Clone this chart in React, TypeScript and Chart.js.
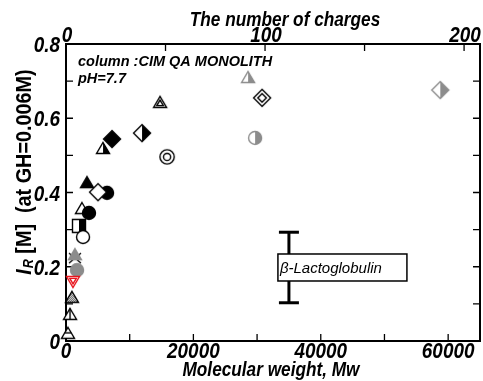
import React, { useEffect, useRef } from "react";
import { Chart, registerables } from "chart.js";

Chart.register(...registerables);

// ---------------- data ----------------
const MOLECULAR_WEIGHT = [28590, 30790, 29690, 58760, 14770, 11940, 15870, 7230, 5810, 3300, 6440, 5030, 2510, 3610, 2040, 2670, 1410, 1730, 1100, 940, 630, 310];
const IR_VALUES = [0.711, 0.655, 0.547, 0.676, 0.644, 0.56, 0.496, 0.544, 0.52, 0.428, 0.399, 0.401, 0.358, 0.345, 0.31, 0.28, 0.234, 0.191, 0.159, 0.119, 0.073, 0.022];
const MARKERS = ["triHalfGray", "diamondDouble", "circleHalfGray", "diamondHalfGray", "triDouble", "diamondHalfBlack", "circleDouble", "diamondBlack", "triHalfBlack", "triBlack", "circleBlack", "diamondWhite", "triWhite", "circleBlack", "squareHalfBlack", "circleWhite", "triGrayX", "circleGray", "invTriRedDouble", "triDotted", "triVLine", "triHLine"];

const ERROR_BAR_MW = [35000];
const ERROR_BAR_LOW = [0.103];
const ERROR_BAR_HIGH = [0.293];
const ERROR_BAR_LABEL = "β-Lactoglobulin";

const X_MAX = 65000;
const X_TICKS = [0, 10000, 20000, 30000, 40000, 50000, 60000];
const X_LABEL_EVERY = 20000;
const CHARGE_MAX = 208;
const CHARGE_TICKS = [0, 50, 100, 150, 200];
const CHARGE_LABEL_EVERY = 100;
const Y_MAX = 0.8;
const Y_TICKS = [0, 0.1, 0.2, 0.3, 0.4, 0.5, 0.6, 0.7, 0.8];
const Y_LABEL_EVERY = 0.2;

const X_TITLE = "Molecular weight, Mw";
const TOP_TITLE = "The number of charges";
const Y_TITLE_MAIN = "I";
const Y_TITLE_SUB = "R";
const Y_TITLE_REST = " [M]  (at GH=0.006M)";
const ANNOTATION_LINES = ["column :CIM QA MONOLITH", "pH=7.7"];

// ---------------- styles ----------------
const SANS = "'Liberation Sans', Arial, Helvetica, sans-serif";
const GRAY = "#8c8c8c";
const TICK_FONT = `italic bold 22px ${SANS}`;
const TICK_SX = 0.86;
const TITLE_FONT = `italic bold 21px ${SANS}`;
const TITLE_SX = 0.82;

type Spec = {
  shape: string; fill: string; stroke: string; half?: string; inner?: boolean;
  vline?: boolean; hline?: boolean; xBehind?: boolean; scale?: number;
};

const SPECS: Record<string, Spec> = {
  triHalfGray: { shape: "tri", fill: "#fff", half: GRAY, stroke: GRAY },
  diamondDouble: { shape: "diamond", fill: "#fff", stroke: "#000", inner: true },
  circleHalfGray: { shape: "circle", fill: "#fff", half: GRAY, stroke: GRAY },
  diamondHalfGray: { shape: "diamond", fill: "#fff", half: GRAY, stroke: GRAY },
  triDouble: { shape: "tri", fill: "#fff", stroke: "#000", inner: true },
  diamondHalfBlack: { shape: "diamond", fill: "#fff", half: "#000", stroke: "#000" },
  circleDouble: { shape: "circle", fill: "#fff", stroke: "#000", inner: true, scale: 1.1 },
  diamondBlack: { shape: "diamond", fill: "#000", stroke: "#000" },
  triHalfBlack: { shape: "tri", fill: "#fff", half: "#000", stroke: "#000" },
  triBlack: { shape: "tri", fill: "#000", stroke: "#000" },
  circleBlack: { shape: "circle", fill: "#000", stroke: "#000" },
  diamondWhite: { shape: "diamond", fill: "#fff", stroke: "#000" },
  triWhite: { shape: "tri", fill: "#fff", stroke: "#000" },
  squareHalfBlack: { shape: "square", fill: "#fff", half: "#000", stroke: "#000" },
  circleWhite: { shape: "circle", fill: "#fff", stroke: "#000" },
  triGrayX: { shape: "tri", fill: GRAY, stroke: GRAY, xBehind: true },
  circleGray: { shape: "circle", fill: GRAY, stroke: GRAY },
  invTriRedDouble: { shape: "invTri", fill: "#fff", stroke: "#e8141c", inner: true },
  triDotted: { shape: "tri", fill: "dotted", stroke: "#000" },
  triVLine: { shape: "tri", fill: "#fff", stroke: "#000", vline: true },
  triHLine: { shape: "tri", fill: "#fff", stroke: "#000", hline: true },
};

const GEOM: Record<string, { pts: number[][]; c: number[] }> = {
  tri: { pts: [[0, -5.5], [6.5, 5.5], [-6.5, 5.5]], c: [0, 1.8] },
  invTri: { pts: [[0, 5.5], [6.5, -5.5], [-6.5, -5.5]], c: [0, -1.8] },
  diamond: { pts: [[0, -8.5], [8.5, 0], [0, 8.5], [-8.5, 0]], c: [0, 0] },
  square: { pts: [[-6.5, -6.5], [6.5, -6.5], [6.5, 6.5], [-6.5, 6.5]], c: [0, 0] },
};

function tracePath(g: CanvasRenderingContext2D, shape: string, k: number) {
  g.beginPath();
  if (shape === "circle") {
    g.arc(0, 0, 6.5 * k, 0, Math.PI * 2);
    return;
  }
  const { pts, c } = GEOM[shape];
  pts.forEach(([x, y], i) => {
    const px = c[0] + (x - c[0]) * k;
    const py = c[1] + (y - c[1]) * k;
    if (i) g.lineTo(px, py);
    else g.moveTo(px, py);
  });
  g.closePath();
}

function makeMarker(spec: Spec): HTMLCanvasElement {
  const S = 24;
  const c = document.createElement("canvas");
  c.width = S;
  c.height = S;
  const g = c.getContext("2d")!;
  g.translate(S / 2, S / 2);
  const k = spec.scale || 1;
  if (spec.xBehind) {
    g.strokeStyle = "#000";
    g.lineWidth = 1.3;
    g.beginPath();
    g.moveTo(-6, -1); g.lineTo(6, 9);
    g.moveTo(6, -1); g.lineTo(-6, 9);
    g.stroke();
  }
  tracePath(g, spec.shape, k);
  if (spec.fill === "dotted") {
    const p = document.createElement("canvas");
    p.width = 2; p.height = 2;
    const pg = p.getContext("2d")!;
    pg.fillStyle = "#d0d0d0"; pg.fillRect(0, 0, 2, 2);
    pg.fillStyle = "#707070"; pg.fillRect(0, 0, 1, 1); pg.fillRect(1, 1, 1, 1);
    g.fillStyle = g.createPattern(p, "repeat")!;
  } else {
    g.fillStyle = spec.fill;
  }
  g.fill();
  if (spec.half) {
    g.save();
    tracePath(g, spec.shape, k);
    g.clip();
    g.fillStyle = spec.half;
    g.fillRect(0, -12, 12, 24);
    g.restore();
  }
  g.lineWidth = 1.4;
  g.strokeStyle = spec.stroke;
  tracePath(g, spec.shape, k);
  g.stroke();
  if (spec.inner) {
    tracePath(g, spec.shape, k * 0.5);
    g.stroke();
  }
  if (spec.vline) {
    g.beginPath(); g.moveTo(0, -5.5); g.lineTo(0, 5.5); g.stroke();
  }
  if (spec.hline) {
    g.beginPath(); g.moveTo(-3.3, 0); g.lineTo(3.3, 0); g.stroke();
  }
  return c;
}

function isMultiple(v: number, step: number) {
  const r = v / step;
  return Math.abs(r - Math.round(r)) < 1e-6;
}

function drawScaled(g: CanvasRenderingContext2D, text: string, x: number, y: number, sx: number, align: CanvasTextAlign) {
  g.save();
  g.translate(x, y);
  g.scale(sx, 1);
  g.textAlign = align;
  g.textBaseline = "alphabetic";
  g.fillText(text, 0, 0);
  g.restore();
}

function fmtY(v: number) {
  return Math.abs(v) < 1e-9 ? "0" : v.toFixed(1);
}

const framePlugin = {
  id: "frame",
  beforeDatasetsDraw(chart: any) {
    const g: CanvasRenderingContext2D = chart.ctx;
    const { left, right, top, bottom } = chart.chartArea;
    const xs = chart.scales.x, x2 = chart.scales.x2, ys = chart.scales.y;
    g.save();
    g.strokeStyle = "#000";
    g.lineWidth = 1.3;
    g.beginPath();
    xs.ticks.forEach((t: any) => {
      const p = xs.getPixelForValue(t.value);
      g.moveTo(p, bottom); g.lineTo(p, bottom - 7);
    });
    x2.ticks.forEach((t: any) => {
      const p = x2.getPixelForValue(t.value);
      g.moveTo(p, top); g.lineTo(p, top + 7);
    });
    ys.ticks.forEach((t: any) => {
      const p = ys.getPixelForValue(t.value);
      g.moveTo(left, p); g.lineTo(left + 7, p);
      g.moveTo(right, p); g.lineTo(right - 7, p);
    });
    g.stroke();
    g.lineWidth = 2;
    g.strokeRect(left, top, right - left, bottom - top);

    // tick labels
    g.fillStyle = "#000";
    g.font = TICK_FONT;
    xs.ticks.forEach((t: any) => {
      if (!isMultiple(t.value, X_LABEL_EVERY)) return;
      drawScaled(g, String(t.value), xs.getPixelForValue(t.value), bottom + 17, TICK_SX, "center");
    });
    x2.ticks.forEach((t: any) => {
      if (!isMultiple(t.value, CHARGE_LABEL_EVERY)) return;
      drawScaled(g, String(t.value), x2.getPixelForValue(t.value) + 1, top - 2, TICK_SX, "center");
    });
    ys.ticks.forEach((t: any) => {
      if (!isMultiple(t.value, Y_LABEL_EVERY)) return;
      drawScaled(g, fmtY(t.value), left - 6, ys.getPixelForValue(t.value) + 8, TICK_SX, "right");
    });

    // axis titles
    g.font = TITLE_FONT;
    drawScaled(g, TOP_TITLE, (left + right) / 2 + 12, top - 18, TITLE_SX, "center");
    drawScaled(g, X_TITLE, (left + right) / 2 - 2, bottom + 35, TITLE_SX, "center");

    // y title, rotated, with subscript
    g.save();
    g.translate(left - 35, (top + bottom) / 2 - 20);
    g.rotate(-Math.PI / 2);
    g.scale(0.9, 1);
    const fI = `italic bold 22px ${SANS}`;
    const fR = `italic bold 14px ${SANS}`;
    const fRest = `bold 22px ${SANS}`;
    g.font = fI; const wI = g.measureText(Y_TITLE_MAIN).width;
    g.font = fR; const wR = g.measureText(Y_TITLE_SUB).width;
    g.font = fRest; const wRest = g.measureText(Y_TITLE_REST).width;
    let sx = -(wI + wR + wRest) / 2;
    g.textAlign = "left";
    g.textBaseline = "alphabetic";
    g.font = fI; g.fillText(Y_TITLE_MAIN, sx, 0); sx += wI + 1;
    g.font = fR; g.fillText(Y_TITLE_SUB, sx, 2); sx += wR;
    g.font = fRest; g.fillText(Y_TITLE_REST, sx, 0);
    g.restore();
    g.restore();
  },
  afterDatasetsDraw(chart: any) {
    const g: CanvasRenderingContext2D = chart.ctx;
    const { left, top } = chart.chartArea;
    const xs = chart.scales.x, ys = chart.scales.y;
    g.save();
    // error-bar label box
    const px = xs.getPixelForValue(ERROR_BAR_MW[0]);
    const py = ys.getPixelForValue((ERROR_BAR_LOW[0] + ERROR_BAR_HIGH[0]) / 2);
    g.fillStyle = "#fff";
    g.fillRect(px - 11, py - 13.5, 129, 27);
    g.strokeStyle = "#000";
    g.lineWidth = 1.5;
    g.strokeRect(px - 11, py - 13.5, 129, 27);
    g.fillStyle = "#000";
    g.font = `italic 15px ${SANS}`;
    g.textAlign = "left";
    g.textBaseline = "middle";
    g.fillText(ERROR_BAR_LABEL, px - 9, py + 1);

    // annotation
    g.font = `italic bold 14.5px ${SANS}`;
    g.textBaseline = "alphabetic";
    g.fillText(ANNOTATION_LINES[0], left + 12, top + 22);
    g.fillText(ANNOTATION_LINES[1], left + 12, top + 39);
    g.restore();
  },
};

function fixedTicks(values: number[]) {
  return (s: any) => {
    s.ticks = values.map((v) => ({ value: v }));
  };
}

export default function App() {
  const ref = useRef<HTMLCanvasElement | null>(null);
  useEffect(() => {
    const canvas = ref.current!;
    const markers = MARKERS.map((k) => makeMarker(SPECS[k]));
    const hidden = { display: false };
    const chart = new Chart(canvas, {
      type: "scatter",
      data: {
        datasets: [
          {
            label: "proteins",
            data: MOLECULAR_WEIGHT.map((x, i) => ({ x, y: IR_VALUES[i] })),
            pointStyle: markers as any,
            pointRadius: 8,
            clip: false as any,
            xAxisID: "x",
            yAxisID: "y",
          },
          {
            label: "errorbar",
            data: [
              { x: ERROR_BAR_MW[0], y: ERROR_BAR_LOW[0] },
              { x: ERROR_BAR_MW[0], y: ERROR_BAR_HIGH[0] },
            ],
            showLine: true,
            borderColor: "#000",
            borderWidth: 3,
            pointStyle: "line",
            pointRadius: 10,
            pointBorderWidth: 3,
            pointBorderColor: "#000",
            xAxisID: "x",
            yAxisID: "y",
          },
        ],
      },
      options: {
        responsive: false,
        devicePixelRatio: 1,
        animation: false,
        layout: { autoPadding: false, padding: { left: 0, right: 3, top: 0, bottom: 0 } },
        plugins: { legend: { display: false }, tooltip: { enabled: false } },
        scales: {
          x: {
            type: "linear",
            position: "bottom",
            min: 0,
            max: X_MAX,
            grid: { display: false, drawTicks: false },
            border: { display: false },
            ticks: hidden,
            afterBuildTicks: fixedTicks(X_TICKS),
            afterFit: (s: any) => { s.height = 40; },
          },
          x2: {
            type: "linear",
            position: "top",
            min: 0,
            max: CHARGE_MAX,
            grid: { display: false, drawTicks: false },
            border: { display: false },
            ticks: hidden,
            afterBuildTicks: fixedTicks(CHARGE_TICKS),
            afterFit: (s: any) => { s.height = 44; },
          },
          y: {
            type: "linear",
            position: "left",
            min: 0,
            max: Y_MAX,
            grid: { display: false, drawTicks: false },
            border: { display: false },
            ticks: hidden,
            afterBuildTicks: fixedTicks(Y_TICKS),
            afterFit: (s: any) => { s.width = 66; },
          },
        },
      } as any,
      plugins: [framePlugin],
    });
    return () => chart.destroy();
  }, []);
  return (
    <div style={{ position: "absolute", left: 0, top: 0, width: 483, height: 381, background: "#fff" }}>
      <canvas ref={ref} width={483} height={381} />
    </div>
  );
}
